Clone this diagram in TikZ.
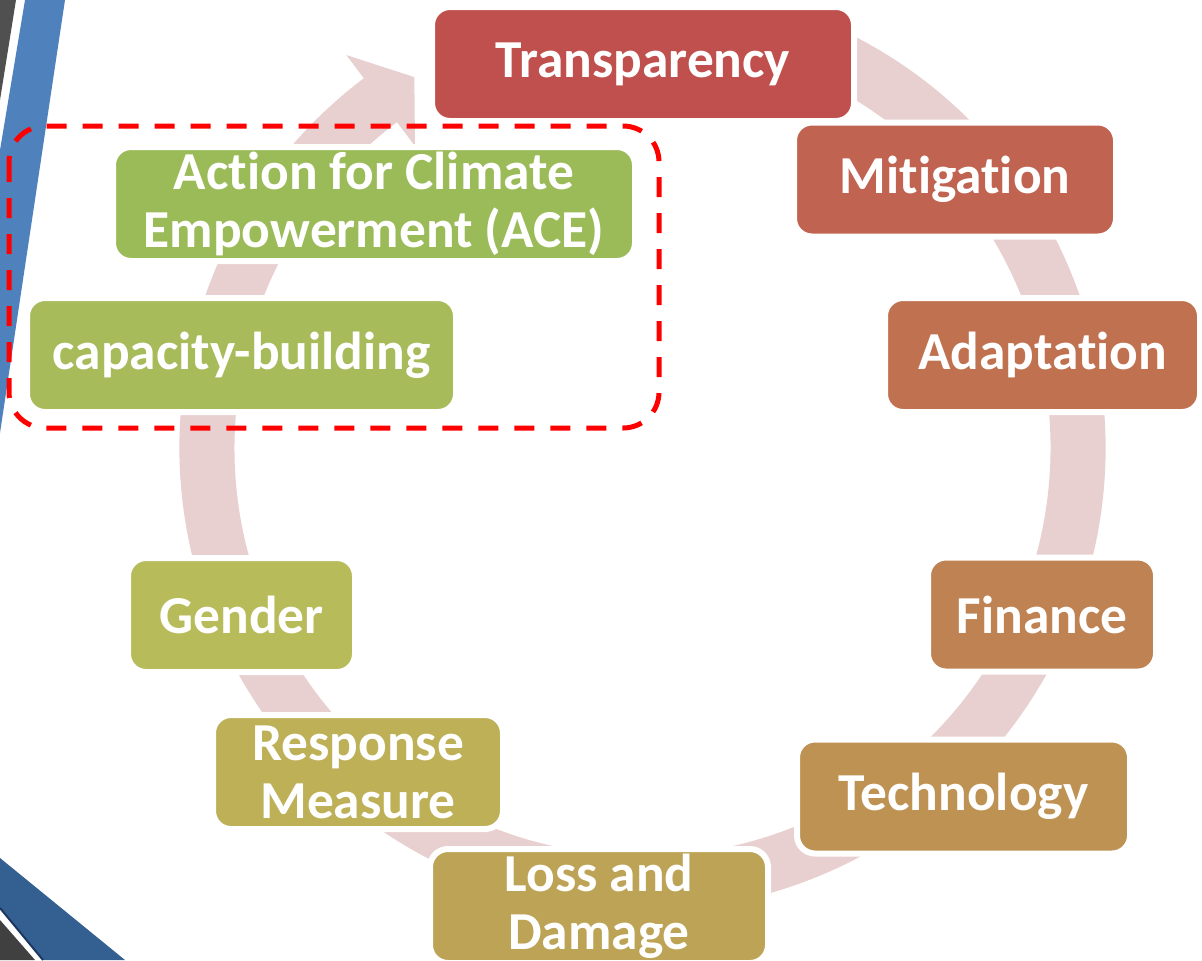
\documentclass[tikz,border=0pt]{standalone}
\usepackage{fontspec}
\setmainfont[Ligatures={NoCommon}]{Carlito}
\definecolor{cT}{RGB}{192,80,77}
\definecolor{cM}{RGB}{192,99,80}
\definecolor{cA}{RGB}{192,114,80}
\definecolor{cF}{RGB}{191,130,82}
\definecolor{cTe}{RGB}{190,146,82}
\definecolor{cL}{RGB}{189,163,85}
\definecolor{cR}{RGB}{189,176,87}
\definecolor{cG}{RGB}{184,187,90}
\definecolor{cC}{RGB}{168,187,90}
\definecolor{cE}{RGB}{155,187,89}
\definecolor{ringc}{RGB}{232,208,209}
\definecolor{barblue}{RGB}{79,129,189}
\definecolor{navyband}{RGB}{52,95,145}
\definecolor{navyedge}{RGB}{30,55,95}
\definecolor{grayA}{RGB}{80,80,80}
\definecolor{grayB}{RGB}{64,64,64}
\tikzset{
  box/.style={draw=white, line width=3pt, rounded corners=9pt, text=white,
    font=\bfseries\fontsize{26.7pt}{29pt}\selectfont, align=center,
    inner sep=0pt, minimum height=57pt},
  groupframe/.style={draw=red, line width=2.5pt, dash pattern=on 10pt off 8pt, rounded corners=18pt}
}
\begin{document}
\begin{tikzpicture}[x=0.5pt,y=-0.5pt]
\path[use as bounding box] (0,0) rectangle (1202,960);
\clip (0,0) rectangle (1202,960);
% slide decorations
\fill[grayA] (0,0) -- (16,0) -- (0,100) -- cycle;
\fill[barblue] (25,0) -- (65,0) -- (0,433) -- (0,150) -- cycle;
\fill[grayB] (0,920) -- (35,960) -- (0,960) -- cycle;
\fill[navyband] (0,858) -- (125,960) -- (43,960) -- (0,908) -- cycle;
\draw[navyedge, line width=1pt] (0,908) -- (43,960);
% circular arrow
\begin{scope}[shift={(642.5,448)}]
\fill[ringc] (68:231.5pt) arc[start angle=68, end angle=-233, radius=231.5pt]
  -- (-233:246pt) -- (-238.4:217.75pt) -- (-233:189pt) -- (-233:204pt)
  arc[start angle=-233, end angle=68, radius=204pt] -- cycle;
\end{scope}
% boxes
\node[box, fill=cT, minimum width=211pt] (transparency) at (643,64) {Transparency};
\node[box, fill=cM, minimum width=161pt] (mitigation) at (955,179.5) {Mitigation};
\node[box, fill=cA, minimum width=157.5pt] (adaptation) at (1042.5,355) {Adaptation};
\node[box, fill=cF, minimum width=114pt] (finance) at (1042,614.5) {Finance};
\node[box, fill=cTe, minimum width=166.5pt] (technology) at (963.5,796.5) {Technology};
\node[box, fill=cL, minimum width=169pt] (loss) at (599,906) {Loss and\\Damage};
\node[box, fill=cR, minimum width=145pt] (response) at (358,772) {Response\\Measure};
\node[box, fill=cG, minimum width=113.5pt] (gender) at (241.5,615) {Gender};
\node[box, fill=cC, minimum width=214.5pt] (capacity) at (241.5,355) {capacity-building};
\node[box, fill=cE, minimum width=261pt] (ace) at (374,204) {Action for Climate\\Empowerment (ACE)};
% dashed group frame
\draw[groupframe] (9,126) rectangle (659,428);
\end{tikzpicture}
\end{document}
